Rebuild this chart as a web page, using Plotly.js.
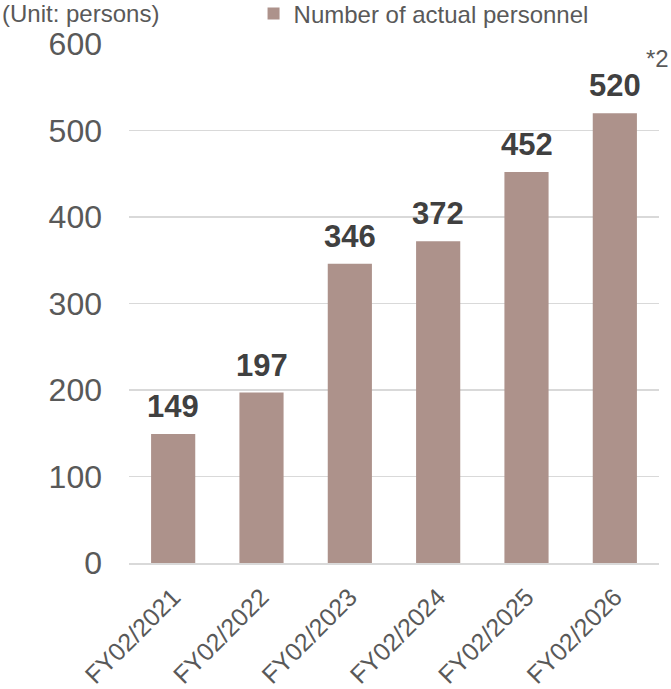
<!DOCTYPE html>
<html>
<head>
<meta charset="utf-8">
<script src="https://cdn.plot.ly/plotly-3.0.1.min.js"></script>
<style>html,body{margin:0;padding:0;background:#fff;}#chart{width:671px;height:689px;}</style>
</head>
<body>
<div id="chart"></div>
<script>
const categories = ["FY02/2021", "FY02/2022", "FY02/2023", "FY02/2024", "FY02/2025", "FY02/2026"];
const personnel = [149, 197, 346, 372, 452, 520];
const yTicks = [0, 100, 200, 300, 400, 500, 600];
const seriesName = "Number of actual personnel";

const FONT = "Liberation Sans, Arial, sans-serif";

const trace = {
  type: "bar",
  x: categories,
  y: personnel,
  name: seriesName,
  marker: {color: "#ad928b"},
  width: 0.5,
  hoverinfo: "none"
};

const valueLabels = categories.map((c, i) => ({
  x: c, y: personnel[i], xref: "x", yref: "y",
  text: String(personnel[i]), showarrow: false,
  xanchor: "center", yanchor: "bottom", yshift: 8,
  font: {family: FONT, size: 31, color: "#404040", weight: "bold"}
}));

const layout = {
  width: 671, height: 689,
  margin: {l: 129, r: 12, t: 44, b: 126, autoexpand: false},
  paper_bgcolor: "#fff", plot_bgcolor: "#fff",
  font: {family: FONT, color: "#595959"},
  showlegend: true,
  legend: {orientation: "h", x: 0.235, xanchor: "left", y: 1.058, yanchor: "middle",
           font: {size: 24, color: "#595959"}, bgcolor: "rgba(0,0,0,0)"},
  xaxis: {type: "category", tickangle: -45, tickfont: {size: 25, color: "#595959"},
          showgrid: false, showline: true, linecolor: "#d9d9d9", linewidth: 1.5, ticks: "",
          ticklabelstandoff: 8},
  yaxis: {range: [0, 600], tickvals: yTicks, tickfont: {size: 32, color: "#595959"},
          showgrid: true, gridcolor: "#d9d9d9", gridwidth: 1.5, zeroline: false, ticks: "",
          ticklabelstandoff: 26},
  bargap: 0.5,
  annotations: valueLabels.concat([
    {text: "(Unit: persons)", xref: "paper", yref: "paper", x: -0.243, y: 1.058, xanchor: "left", yanchor: "middle",
     showarrow: false, font: {size: 24, color: "#595959"}},
    {text: "*2", xref: "paper", yref: "paper", x: 1.0226, y: 0.973, xanchor: "right", yanchor: "middle",
     showarrow: false, font: {size: 24, color: "#595959"}}
  ])
};

Plotly.newPlot("chart", [trace], layout, {displayModeBar: false, staticPlot: true});
</script>
</body>
</html>
